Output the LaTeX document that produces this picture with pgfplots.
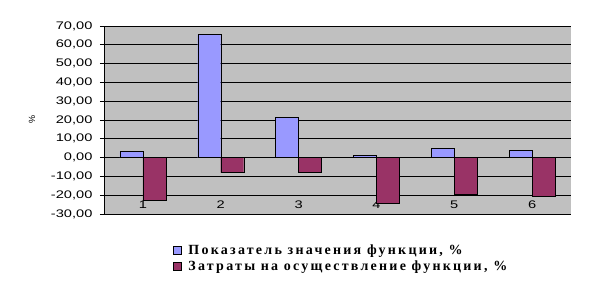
\documentclass[border=0pt]{standalone}
\usepackage{fontspec}
\setmainfont{Liberation Sans}
\newfontfamily\tickfont[FakeStretch=1.33]{Liberation Sans}
\newfontfamily\legfont[LetterSpace=16]{Liberation Serif}
\usepackage{pgfplots}
\pgfplotsset{compat=1.18}
\definecolor{barblue}{HTML}{9999FF}
\definecolor{barred}{HTML}{993366}
\definecolor{plotgray}{HTML}{C0C0C0}
\begin{document}
\begin{tikzpicture}
\begin{axis}[
  name=ax,
  scale only axis,
  width=467pt, height=188pt,
  ybar=0pt, bar width=23pt,
  xmin=-0.5, xmax=5.5,
  ymin=-30, ymax=70,
  ytick={-30,-20,...,70},
  xtick={0,...,5},
  xticklabels={1,2,3,4,5,6},
  major x tick style={draw=none},
  axis y line*=left,
  axis x line*=bottom,
  axis line style={black, line width=0.8pt, -},
  tick align=outside,
  major tick length=4pt,
  ytick style={black, line width=0.8pt},
  ymajorgrids,
  grid style={black, line width=0.8pt},
  axis background/.style={fill=plotgray},
  /pgf/number format/.cd, fixed, fixed zerofill, precision=2, use comma, assume math mode=true,
  /pgfplots/.cd,
  tick label style={font=\tickfont\fontsize{11}{13}\selectfont},
  yticklabel style={xshift=-4pt},
  xticklabel style={anchor=south, yshift=6pt},
  ylabel={\%},
  every axis y label/.style={at={(rel axis cs:0,0.5)}, xshift=-72pt, rotate=90, anchor=center, font=\fontsize{9}{11}\selectfont},
  legend style={draw=none, fill=none, at={(axis description cs:0.141,-0.14)}, anchor=north west, font=\legfont\bfseries\fontsize{14}{16}\selectfont, row sep=1pt, column sep=5pt, cells={anchor=west}},
  legend image code/.code={\draw[#1, draw=black] (0pt,-4pt) rectangle (8pt,4pt);},
  clip=false,
]
\addplot[fill=barblue, draw=black] coordinates {(0,3.2) (1,65.4) (2,21.3) (3,1.1) (4,4.8) (5,3.7)};
\addplot[fill=barred, draw=black] coordinates {(0,-22.9) (1,-8.0) (2,-8.0) (3,-24.5) (4,-19.7) (5,-20.4)};
\legend{{Показатель значения функции, \%}, {Затраты на осуществление функции, \%}}
\end{axis}
\path[use as bounding box] (ax.south west) ++(-104pt,-77pt) rectangle ++(589pt,291pt);
\end{tikzpicture}
\end{document}
